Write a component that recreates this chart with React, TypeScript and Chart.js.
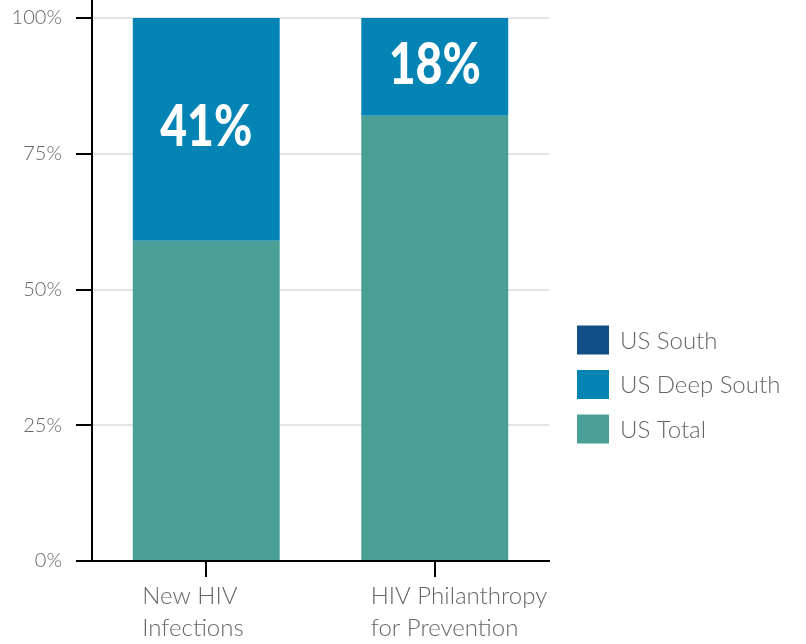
import React, { useEffect, useRef } from "react";
import { Chart, registerables } from "chart.js";

Chart.register(...registerables);

const categories: string[][] = [
  ["New HIV", "Infections"],
  ["HIV Philanthropy", "for Prevention"],
];
const usTotal = [59, 82];
const usDeepSouth = [41, 18];
const usSouth = [0, 0];
const yTickValues = [0, 25, 50, 75, 100];
const legendOrder = ["US South", "US Deep South", "US Total"];

const COLOR_TOTAL = "#4a9f97";
const COLOR_DEEP = "#0384b5";
const COLOR_SOUTH = "#134f87";
const TEXT_GRAY = "#666666";
const FONT = "Lato";

const extrasPlugin = {
  id: "extras",
  afterDraw(chart: any) {
    const { ctx, chartArea } = chart;
    ctx.save();
    ctx.strokeStyle = "#000";
    ctx.lineWidth = 2;
    ctx.beginPath();
    ctx.moveTo(chartArea.left, 0);
    ctx.lineTo(chartArea.left, chartArea.top);
    ctx.stroke();

    const dsIndex = chart.data.datasets.findIndex((d: any) => d.label === "US Deep South");
    const meta = chart.getDatasetMeta(dsIndex);
    meta.data.forEach((el: any, i: number) => {
      const v = chart.data.datasets[dsIndex].data[i];
      if (!v) return;
      const cx = el.x;
      const cy = (el.y + el.base) / 2 - 2;
      ctx.save();
      ctx.translate(cx, cy);
      ctx.scale(0.8, 1);
      ctx.fillStyle = "#ffffff";
      ctx.font = `900 58px ${FONT}`;
      ctx.textAlign = "center";
      ctx.textBaseline = "middle";
      ctx.fillText(`${v}%`, 0, 0);
      ctx.restore();
    });

    const boxX = chartArea.right + 28;
    const rowGap = 44.5;
    const firstRowY = chartArea.bottom - 221;
    legendOrder.forEach((name, i) => {
      const ds = chart.data.datasets.find((d: any) => d.label === name);
      const y = firstRowY + i * rowGap;
      ctx.fillStyle = ds.backgroundColor;
      ctx.fillRect(boxX, y - 14.5, 32, 29);
      ctx.fillStyle = TEXT_GRAY;
      ctx.font = `300 24px ${FONT}`;
      ctx.textAlign = "left";
      ctx.textBaseline = "middle";
      ctx.fillText(name, boxX + 43, y + 1);
    });
    ctx.restore();
  },
};

export default function App() {
  const canvasRef = useRef<HTMLCanvasElement | null>(null);

  useEffect(() => {
    if (!canvasRef.current) return;
    const chart = new Chart(canvasRef.current, {
      type: "bar",
      data: {
        labels: categories,
        datasets: [
          { label: "US Total", data: usTotal, backgroundColor: COLOR_TOTAL, borderWidth: 0 },
          { label: "US Deep South", data: usDeepSouth, backgroundColor: COLOR_DEEP, borderWidth: 0 },
          { label: "US South", data: usSouth, backgroundColor: COLOR_SOUTH, borderWidth: 0 },
        ],
      },
      options: {
        animation: false,
        responsive: true,
        maintainAspectRatio: false,
        layout: { padding: { top: 18, right: 257, left: 0, bottom: 0 } },
        datasets: { bar: { barPercentage: 0.643, categoryPercentage: 1 } },
        plugins: {
          legend: { display: false },
          tooltip: { enabled: false },
        },
        scales: {
          x: {
            stacked: true,
            afterFit: (scale: any) => {
              scale.height = 83;
            },
            grid: {
              display: true,
              drawOnChartArea: false,
              offset: false,
              tickLength: 16,
              tickColor: "#000",
              tickWidth: 2,
              lineWidth: 2,
            },
            border: { display: true, color: "#000", width: 2 },
            ticks: {
              color: TEXT_GRAY,
              font: { family: FONT, size: 24, weight: "300", lineHeight: 1.3 },
              padding: 4,
              align: "start",
              labelOffset: -64,
              maxRotation: 0,
              autoSkip: false,
            },
          },
          y: {
            stacked: true,
            min: 0,
            max: 100,
            afterFit: (scale: any) => {
              scale.width = 92;
              scale.paddingTop = 0;
              scale.paddingBottom = 0;
            },
            afterBuildTicks: (scale: any) => {
              scale.ticks = yTickValues.map((v) => ({ value: v }));
            },
            grid: {
              color: "#e4e4e4",
              lineWidth: 2,
              tickLength: 16,
              tickColor: "#000",
              tickWidth: 2,
            },
            border: { display: true, color: "#000", width: 2 },
            ticks: {
              color: TEXT_GRAY,
              font: { family: FONT, size: 20, weight: "300" },
              padding: 14,
              callback: (v: any) => `${v}%`,
            },
          },
        },
      },
      plugins: [extrasPlugin],
    } as any);
    return () => chart.destroy();
  }, []);

  return (
    <div style={{ position: "absolute", left: 0, top: 0, width: 806, height: 644, overflow: "hidden", background: "#fff" }}>
      <canvas ref={canvasRef} />
    </div>
  );
}
